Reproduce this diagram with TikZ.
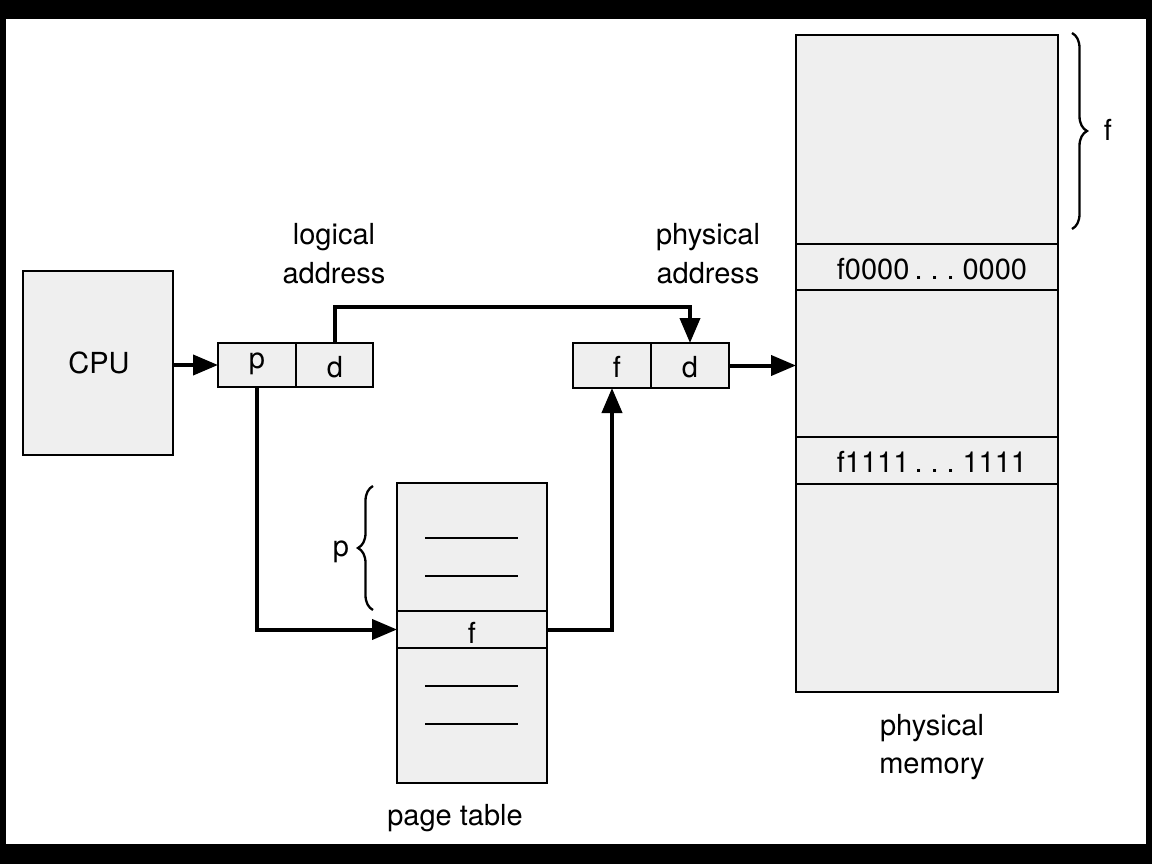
\documentclass[tikz,border=0pt]{standalone}
\usepackage{fontspec}
\setmainfont{TeX Gyre Heros}
\usetikzlibrary{arrows.meta,decorations.pathreplacing}
\definecolor{boxgray}{RGB}{239,239,239}
\newcommand{\tightsp}{\spaceskip=0.18em\relax}
\begin{document}
\begin{tikzpicture}[x=1pt,y=-1pt,
  box/.style={draw=black,line width=2.5pt,fill=boxgray,inner sep=0pt,outer sep=0pt},
  lbl/.style={anchor=base,inner sep=0pt,font=\fontsize{29}{35}\selectfont},
  conn/.style={line width=4pt,-{Triangle[length=25pt,width=20pt]}},
  plain/.style={line width=2.5pt},
  bracestyle/.style={line width=2.3pt,decorate,decoration={brace,amplitude=15pt}}]
\useasboundingbox (0,0) rectangle (1152,864);
\fill[black] (0,0) rectangle (1152,864);
\fill[white] (6,19) rectangle (1146,844);
% CPU
\node[box,minimum width=150pt,minimum height=184pt] (cpu) at (98,363) {};
\node[lbl] (cputxt) at (99,373) {CPU};
% logical address
\node[box,minimum width=78pt,minimum height=44pt] (pcell) at (257,365) {};
\node[box,minimum width=77pt,minimum height=44pt] (dcell) at (334.5,365) {};
\node[lbl] (ptxt) at (257,368) {p};
\node[lbl] (dtxt) at (335,377) {d};
\node[lbl] (log1) at (334,244) {logical};
\node[lbl] (log2) at (334,283) {address};
% physical address
\node[box,minimum width=78pt,minimum height=45pt] (fcell) at (612,365.5) {};
\node[box,minimum width=78pt,minimum height=45pt] (d2cell) at (690,365.5) {};
\node[lbl] (ftxt) at (617,377) {f};
\node[lbl] (d2txt) at (690,377) {d};
\node[lbl] (phy1) at (708,244) {physical};
\node[lbl] (phy2) at (708,283) {address};
% physical memory
\node[box,minimum width=262pt,minimum height=657pt] (mem) at (927,363.5) {};
\node[box,minimum width=262pt,minimum height=46pt] (row0) at (927,267) {};
\node[box,minimum width=262pt,minimum height=47pt] (row1) at (927,460.5) {};
\node[lbl] (row0txt) at (932,279) {\tightsp f0000 . . . 0000};
\node[lbl] (row1txt) at (932,472) {\tightsp f1111 . . . 1111};
\node[lbl] (mem1) at (932,735) {physical};
\node[lbl] (mem2) at (932,773) {memory};
\draw[bracestyle] (1072,33) -- (1072,229);
\node[lbl] (ftop) at (1108,141) {f};
% page table
\node[box,minimum width=150pt,minimum height=300pt] (pt) at (472,633) {};
\node[box,minimum width=150pt,minimum height=37pt] (frow) at (472,629.5) {};
\node[lbl] (frowtxt) at (472,643) {f};
\draw[plain] (425,538) -- (518,538);
\draw[plain] (425,576) -- (518,576);
\draw[plain] (425,686) -- (518,686);
\draw[plain] (425,724) -- (518,724);
\draw[bracestyle] (373,610) -- (373,486);
\node[lbl] (plbl) at (341,556) {p};
\node[lbl] (pttxt) at (455,825) {page table};
% connectors
\draw[conn] (cpu.east |- pcell.west) -- (pcell.west);
\draw[conn] (dcell.north) -- ++(0,-36) -| (d2cell.north);
\draw[conn] (d2cell.east) -- (d2cell.east -| mem.west);
\draw[conn] (pcell.south) |- (frow.west);
\draw[conn] (frow.east) -| (fcell.south);
\end{tikzpicture}
\end{document}
